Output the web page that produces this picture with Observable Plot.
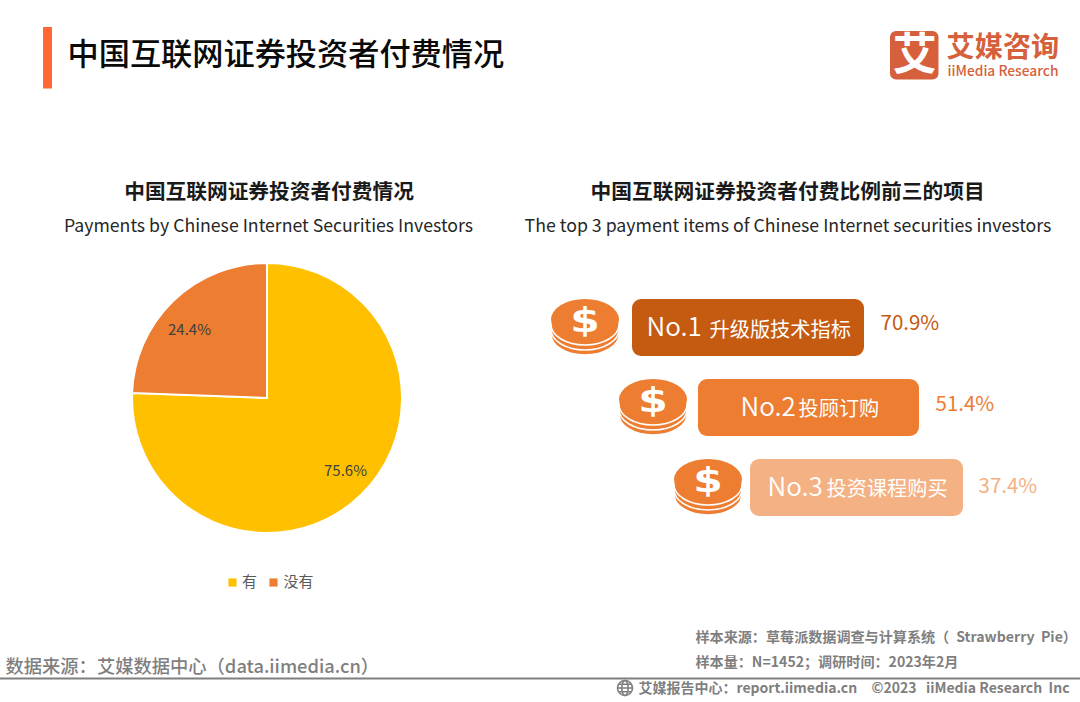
<!DOCTYPE html>
<html lang="zh">
<head>
<meta charset="utf-8">
<script src="https://cdn.jsdelivr.net/npm/d3@7"></script>
<script src="https://cdn.jsdelivr.net/npm/@observablehq/plot@0.6"></script>
<style>
html,body{margin:0;padding:0;background:#fff;overflow:hidden}
</style>
</head>
<body>
<div id="chart"></div>
<script>
// ---- data ----
const pieCategories = ["有", "没有"];
const pieValues = [75.6, 24.4];
const pieColors = ["#FFC000", "#ED7D31"];
const topRanks = ["No.1", "No.2", "No.3"];
const topItems = ["升级版技术指标", "投顾订购", "投资课程购买"];
const topValues = [70.9, 51.4, 37.4];
const topColors = ["#C55A11", "#ED7D31", "#F4B183"];
const mainTitle = "中国互联网证券投资者付费情况";
const leftTitle = ["中国互联网证券投资者付费情况", "Payments by Chinese Internet Securities Investors"];
const rightTitle = ["中国互联网证券投资者付费比例前三的项目", "The top 3 payment items of Chinese Internet securities investors"];
const sourceLeft = "数据来源：艾媒数据中心（data.iimedia.cn）";
const sampleNotes = ["样本来源：草莓派数据调查与计算系统（\u2002Strawberry\u00A0\u00A0Pie）", "样本量：N=1452；调研时间：2023年2月"];
const footerNotes = ["艾媒报告中心：report.iimedia.cn", "©2023\u00A0\u00A0\u00A0iiMedia Research\u00A0\u00A0Inc"];
const logoText = ["艾", "艾媒咨询", "iiMedia Research"];

// ---- layout ----
const FONT = "'Noto Sans CJK SC','Noto Sans',sans-serif";
const W = 1080, H = 702;
const pie = {cx: 267, cy: 398, r: 135};
const pieLabelPos = [[345, 471], [189, 330]];
const legendSquares = [232, 273], legendText = [249, 298], legendY = 582;
const badgeX = [[632, 864], [698, 919], [750, 963]];
const badgeY = [[299, 356], [379, 436], [459, 516]];
const rankX = [646, 740, 767];
const itemX = [709, 798, 826];
const pctX = [880, 935, 978];
const rowTextY = [328, 408, 488];
const itemY = [329, 408, 488];
const pctY = [323, 404, 486];
const coinX = [585, 653, 708];

const txt = (text, x, y, o = {}) =>
  Plot.text([text], {x: () => x, y: () => y, text: d => d, fontFamily: FONT, textAnchor: "start", ...o});

// Pie drawn from values via d3.pie, coloured by the Plot colour scale
function pieMark(index, scales) {
  const arcs = d3.pie().sort(null)(pieValues);
  const cx = scales.x(pie.cx), cy = scales.y(pie.cy), r = scales.x(pie.cx + pie.r) - cx;
  const arc = d3.arc().innerRadius(0).outerRadius(r);
  const g = d3.create("svg:g").attr("transform", `translate(${cx},${cy})`);
  g.selectAll("path").data(arcs).join("path")
    .attr("d", arc)
    .attr("fill", (d, i) => scales.color(pieCategories[i]))
    .attr("stroke", "#fff").attr("stroke-width", 2).attr("stroke-linejoin", "miter");
  return g.node();
}

// Decorative stacks of coins
function coinsMark(index, scales) {
  const root = d3.create("svg:g");
  coinX.forEach((x, i) => {
    const px = scales.x(x), top = scales.y(badgeY[i][0]);
    const g = root.append("g").attr("transform", `translate(${px},${top})`);
    [15, 10, 5, 0].forEach(off => {
      g.append("ellipse").attr("cx", 0).attr("cy", 20.5 + off).attr("rx", 34).attr("ry", 20.5)
        .attr("fill", "#ED7D31").attr("stroke", "#fff").attr("stroke-width", off ? 1.5 : 0);
    });
    g.append("text").text("$")
      .attr("transform", "translate(0,33) scale(1.25,1)")
      .attr("text-anchor", "middle").attr("font-family", "'DejaVu Sans',sans-serif")
      .attr("font-weight", 700).attr("font-size", 34).attr("fill", "#fff");
  });
  return root.node();
}

// Little globe icon in the footer
function globeMark(index, scales) {
  const g = d3.create("svg:g").attr("transform", `translate(${scales.x(625)},${scales.y(688)})`)
    .attr("fill", "none").attr("stroke", "#7F7F7F").attr("stroke-width", 1.6);
  g.append("circle").attr("r", 7.5);
  g.append("ellipse").attr("rx", 3.2).attr("ry", 7.5);
  g.append("path").attr("d", "M-7.5 0H7.5M-6.5 -3.8H6.5M-6.5 3.8H6.5");
  return g.node();
}

const chart = Plot.plot({
  width: W, height: H,
  marginTop: 0, marginRight: 0, marginBottom: 0, marginLeft: 0,
  style: {background: "#fff", fontFamily: FONT},
  x: {domain: [0, W], range: [0, W], axis: null},
  y: {domain: [0, H], range: [0, H], axis: null},
  color: {domain: pieCategories, range: pieColors},
  marks: [
    // header
    Plot.rect([0], {x1: () => 43, x2: () => 52, y1: () => 27, y2: () => 88.5, fill: "#FF6835"}),
    txt(mainTitle, 67, 55, {fontSize: 31.2, fontWeight: 500, fill: "#0a0a0a"}),
    // logo
    Plot.rect([0], {x1: () => 890, x2: () => 938.5, y1: () => 31, y2: () => 79.5, fill: "#D65F3C", rx: 6}),
    txt(logoText[0], 914.3, 55, {fontSize: 44, fontWeight: 700, fill: "#fff", textAnchor: "middle"}),
    txt(logoText[1], 946, 47, {fontSize: 28.2, fontWeight: 700, fill: "#D65F3C"}),
    txt(logoText[2], 947, 71.5, {fontSize: 13.8, fontWeight: 500, fill: "#D65F3C"}),
    // panel headings
    txt(leftTitle[0], 268.5, 192, {fontSize: 20.7, fontWeight: 700, fill: "#1a1a1a", textAnchor: "middle"}),
    txt(leftTitle[1], 268, 225.5, {fontSize: 17.7, fill: "#262626", textAnchor: "middle"}),
    txt(rightTitle[0], 787, 192, {fontSize: 20.75, fontWeight: 700, fill: "#1a1a1a", textAnchor: "middle"}),
    txt(rightTitle[1], 787.5, 225.5, {fontSize: 17.73, fill: "#262626", textAnchor: "middle"}),
    // pie
    pieMark,
    Plot.text(pieValues, {x: (d, i) => pieLabelPos[i][0], y: (d, i) => pieLabelPos[i][1], text: d => d.toFixed(1) + "%", fontFamily: FONT, fontSize: 15, fill: "#404040"}),
    // legend
    Plot.dot(pieCategories, {x: (d, i) => legendSquares[i], y: () => legendY, fill: d => d, symbol: "square", r: 4.6}),
    Plot.text(pieCategories, {x: (d, i) => legendText[i], y: () => legendY, text: d => d, fontFamily: FONT, fontSize: 15, fill: "#595959"}),
    // coins and badges
    coinsMark,
    Plot.rect(topItems, {x1: (d, i) => badgeX[i][0], x2: (d, i) => badgeX[i][1], y1: (d, i) => badgeY[i][0], y2: (d, i) => badgeY[i][1], fill: (d, i) => topColors[i], rx: 9}),
    Plot.text(topRanks, {x: (d, i) => rankX[i], y: (d, i) => rowTextY[i] - 1, text: d => d, fontFamily: FONT, fontSize: 26, fontWeight: 350, fill: "#fff", textAnchor: "start"}),
    Plot.text(topItems, {x: (d, i) => itemX[i], y: (d, i) => itemY[i] + 1, text: d => d, fontFamily: FONT, fontSize: 20.2, fill: "#fff", textAnchor: "start"}),
    Plot.text(topValues, {x: (d, i) => pctX[i], y: (d, i) => pctY[i], text: d => d.toFixed(1) + "%", fontFamily: FONT, fontSize: 20.5, fill: (d, i) => topColors[i], textAnchor: "start"}),
    // footer
    txt(sourceLeft, 5, 667, {fontSize: 18.3, fontWeight: 500, fill: "#7F7F7F"}),
    Plot.text(sampleNotes, {x: () => 695, y: (d, i) => [637, 662][i], text: d => d, fontFamily: FONT, fontSize: 14.1, fontWeight: 700, fill: "#7F7F7F", textAnchor: "start"}),
    Plot.ruleY([678], {x1: 0, x2: W, stroke: "#7F7F7F", strokeWidth: 2}),
    globeMark,
    txt(footerNotes[0], 638, 688, {fontSize: 14, fontWeight: 700, fill: "#7F7F7F"}),
    txt(footerNotes[1], 871, 688, {fontSize: 14, fontWeight: 700, fill: "#7F7F7F"})
  ]
});
document.getElementById("chart").append(chart);
</script>
</body>
</html>
